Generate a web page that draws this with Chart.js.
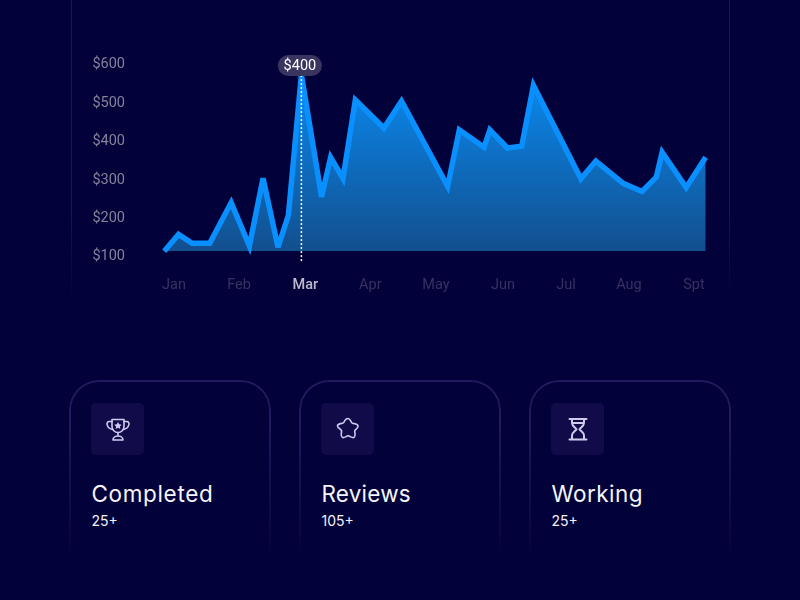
<!DOCTYPE html>
<html>
<head>
<meta charset="utf-8">
<script src="https://cdn.jsdelivr.net/npm/chart.js@4"></script>
<style>
html,body{margin:0;padding:0;width:800px;height:600px;overflow:hidden;background:#03013a;font-family:Inter,sans-serif}
#wrap{position:absolute;left:0;top:0;width:800px;height:300px}
.rule{position:absolute;top:0;width:1px;height:300px;background:linear-gradient(#1a1654 0%,#1a1654 70%,rgba(26,22,84,0) 100%)}
.card{position:absolute;top:379.500px;width:202px;height:182px}
.edge{position:absolute;inset:0;box-sizing:border-box;border:2px solid #1f1b5e;border-bottom:none;border-radius:30px 30px 0 0;
-webkit-mask-image:linear-gradient(#000 0%,#000 25%,rgba(0,0,0,.45) 70%,transparent 100%);mask-image:linear-gradient(#000 0%,#000 25%,rgba(0,0,0,.45) 70%,transparent 100%)}
.ico{position:absolute;left:22.500px;top:23.500px;width:53px;height:52px;border-radius:5px;background:#110c49;display:flex;align-items:center;justify-content:center}
.ico svg{width:26px;height:26px;fill:none;stroke:#cfcbef;stroke-width:1.6;stroke-linejoin:round;stroke-linecap:round}
.t{position:absolute;left:23px;top:100.500px;font-size:22.500px;line-height:28px;color:#f5f5fb;white-space:nowrap;letter-spacing:.45px}
.s{position:absolute;left:23px;top:132.500px;font-size:14px;line-height:18px;color:#f2f2f8;white-space:nowrap}
</style>
</head>
<body>
<div class="rule" style="left:71px"></div>
<div class="rule" style="left:729px"></div>
<div id="wrap"><canvas id="c" width="800" height="300"></canvas></div>

<div class="card" style="left:68.500px"><div class="edge"></div>
<div class="ico"><svg viewBox="0 0 26 26"><path d="M7 3.500h12v7a6 6 0 0 1-12 0z"/><path d="M7 5.500H4.200c-1.800 0-2.500 1.600-2 3.400.6 2.400 2.500 4.100 5.600 4.600M19 5.500h2.800c1.800 0 2.500 1.600 2 3.400-.6 2.400-2.500 4.100-5.600 4.600"/><path d="M13 16.500v3.500M8 24c0-2.400 2.200-4 5-4s5 1.600 5 4z"/><path d="M13 6l1.200 2.300 2.500.4-1.800 1.800.4 2.500-2.300-1.200-2.300 1.200.4-2.500-1.800-1.800 2.500-.4z" fill="#cfcbef" stroke="none"/></svg></div>
<div class="t" style="letter-spacing:.65px">Completed</div><div class="s">25+</div></div>

<div class="card" style="left:298.500px"><div class="edge"></div>
<div class="ico"><svg viewBox="0 0 26 26"><path d="M13 2.500c1.300 0 2 1 2.700 2.300l1 1.800c.3.500.7.700 1.300.8l2 .4c1.500.3 3 1 3 2.400 0 1-.6 1.700-1.500 2.600l-1.300 1.300c-.4.400-.5.800-.5 1.400l.3 2.200c.2 1.500.2 3-1 3.700-1 .6-2.100.1-3.300-.5l-1.700-.9c-.6-.3-1.100-.3-1.700 0l-1.700.9c-1.200.6-2.300 1.100-3.300.5-1.200-.7-1.200-2.200-1-3.700l.3-2.200c0-.6-.1-1-.5-1.400l-1.300-1.300C3.100 11.800 2.500 11 2.500 10c0-1.400 1.500-2.100 3-2.400l2-.4c.6-.1 1-.3 1.300-.8l1-1.800C10.500 3.500 11.700 2.500 13 2.500z"/></svg></div>
<div class="t" style="letter-spacing:.2px">Reviews</div><div class="s">105+</div></div>

<div class="card" style="left:528.500px"><div class="edge"></div>
<div class="ico"><svg viewBox="0 0 26 26"><path d="M4.500 3h17M4.500 23.500h17M7 3v4c0 3 3.500 4.500 4.500 6.200C10.500 15 7 16.500 7 19.500v4M19 3v4c0 3-3.500 4.500-4.500 6.200 1 1.800 4.500 3.300 4.500 6.300v4M7 7h12" stroke-width="2"/></svg></div>
<div class="t">Working</div><div class="s">25+</div></div>

<script>
const months = ["Jan","Feb","Mar","Apr","May","Jun","Jul","Aug","Spt"];
const monthPos = [0,1,2.02,3.02,4.03,5.06,6.03,7,8];
const yTicks = [100,200,300,400,500,600];
const pointMonth = [-0.15,0.07,0.28,0.55,0.88,1.16,1.37,1.6,1.76,1.96,2.27,2.41,2.6,2.79,3.23,3.5,4.21,4.39,4.77,4.86,5.13,5.35,5.53,6.26,6.49,6.91,7.2,7.42,7.51,7.88,8.18];
const pointValue = [114,158,135,135,241,128,304,125,208,573,256,359,304,508,435,505,283,430,385,430,383,388,546,303,349,291,270,307,372,280,359];
const areaBase = 115;
const markerIndex = 9;
const markerLow = 88;
const markerText = "$400";
const activeMonth = "Mar";

const points = pointMonth.map((m,i)=>({x:m,y:pointValue[i]}));
const markerLine = [{x:pointMonth[markerIndex],y:pointValue[markerIndex]},{x:pointMonth[markerIndex],y:markerLow}];

const joins = {
  id:'joins',
  beforeDatasetsDraw(chart){ chart.ctx.miterLimit = 3.5; }
};

const pill = {
  id:'pill',
  afterDatasetsDraw(chart){
    const {ctx,scales:{x,y}} = chart;
    const cx = x.getPixelForValue(pointMonth[markerIndex]) - 1.5;
    const cy = y.getPixelForValue(pointValue[markerIndex]) - 9.5;
    ctx.save();
    ctx.fillStyle = '#3a355f';
    ctx.beginPath();
    ctx.roundRect(cx-22, cy-10.5, 44, 21, 10.5);
    ctx.fill();
    ctx.fillStyle = '#ffffff';
    ctx.font = '14.5px Roboto';
    ctx.textAlign = 'center';
    ctx.textBaseline = 'middle';
    ctx.fillText(markerText, cx, cy+0.5);
    ctx.restore();
  }
};

new Chart(document.getElementById('c'),{
  type:'line',
  data:{datasets:[
    {data:markerLine,borderColor:'#ffffff',borderWidth:1.5,borderDash:[2,2],pointRadius:0,fill:false,order:0,tension:0},
    {data:points,borderColor:'#0a8fff',borderWidth:5.5,borderJoinStyle:'miter',borderCapStyle:'butt',pointRadius:0,tension:0,order:1,
     fill:{target:{value:areaBase}},
     backgroundColor(c){
       const {chart} = c; if(!chart.chartArea) return 'transparent';
       const y = chart.scales.y;
       const g = chart.ctx.createLinearGradient(0,y.getPixelForValue(Math.max(...pointValue)),0,y.getPixelForValue(areaBase));
       g.addColorStop(0,'#0a8af0'); g.addColorStop(1,'#124f8e');
       return g;
     }}
  ]},
  plugins:[joins,pill],
  options:{
    responsive:false,animation:false,
    layout:{padding:{left:0,right:80,top:25,bottom:0}},
    plugins:{legend:{display:false},tooltip:{enabled:false}},
    scales:{
      x:{type:'linear',min:-0.369,max:8.4,
        grid:{display:false,drawTicks:false},border:{display:false},
        afterFit(s){s.height=35;s.paddingLeft=0;s.paddingRight=0;s.paddingTop=0;s.paddingBottom=0},
        afterBuildTicks(s){s.ticks=monthPos.map(p=>({value:p}))},
        ticks:{autoSkip:false,maxRotation:0,padding:11.5,
          font(c){return {family:'Roboto',size:14.5,weight:months[c.index]===activeMonth?'500':'400'}},
          callback(v,i){return months[i]},
          color(c){return months[c.index]===activeMonth?'#bdbacd':'#37325f'}}},
      y:{type:'linear',min:78.4,max:703.4,
        grid:{display:false,drawTicks:false},border:{display:false},
        afterFit(s){s.width=150;s.paddingTop=0;s.paddingBottom=0;s.paddingLeft=0;s.paddingRight=0},
        afterBuildTicks(s){s.ticks=yTicks.map(v=>({value:v}))},
        ticks:{padding:25,font:{family:'Roboto',size:14.5},color:'#85829b',callback(v){return '$'+v}}}
    }
  }
});
</script>
</body>
</html>
